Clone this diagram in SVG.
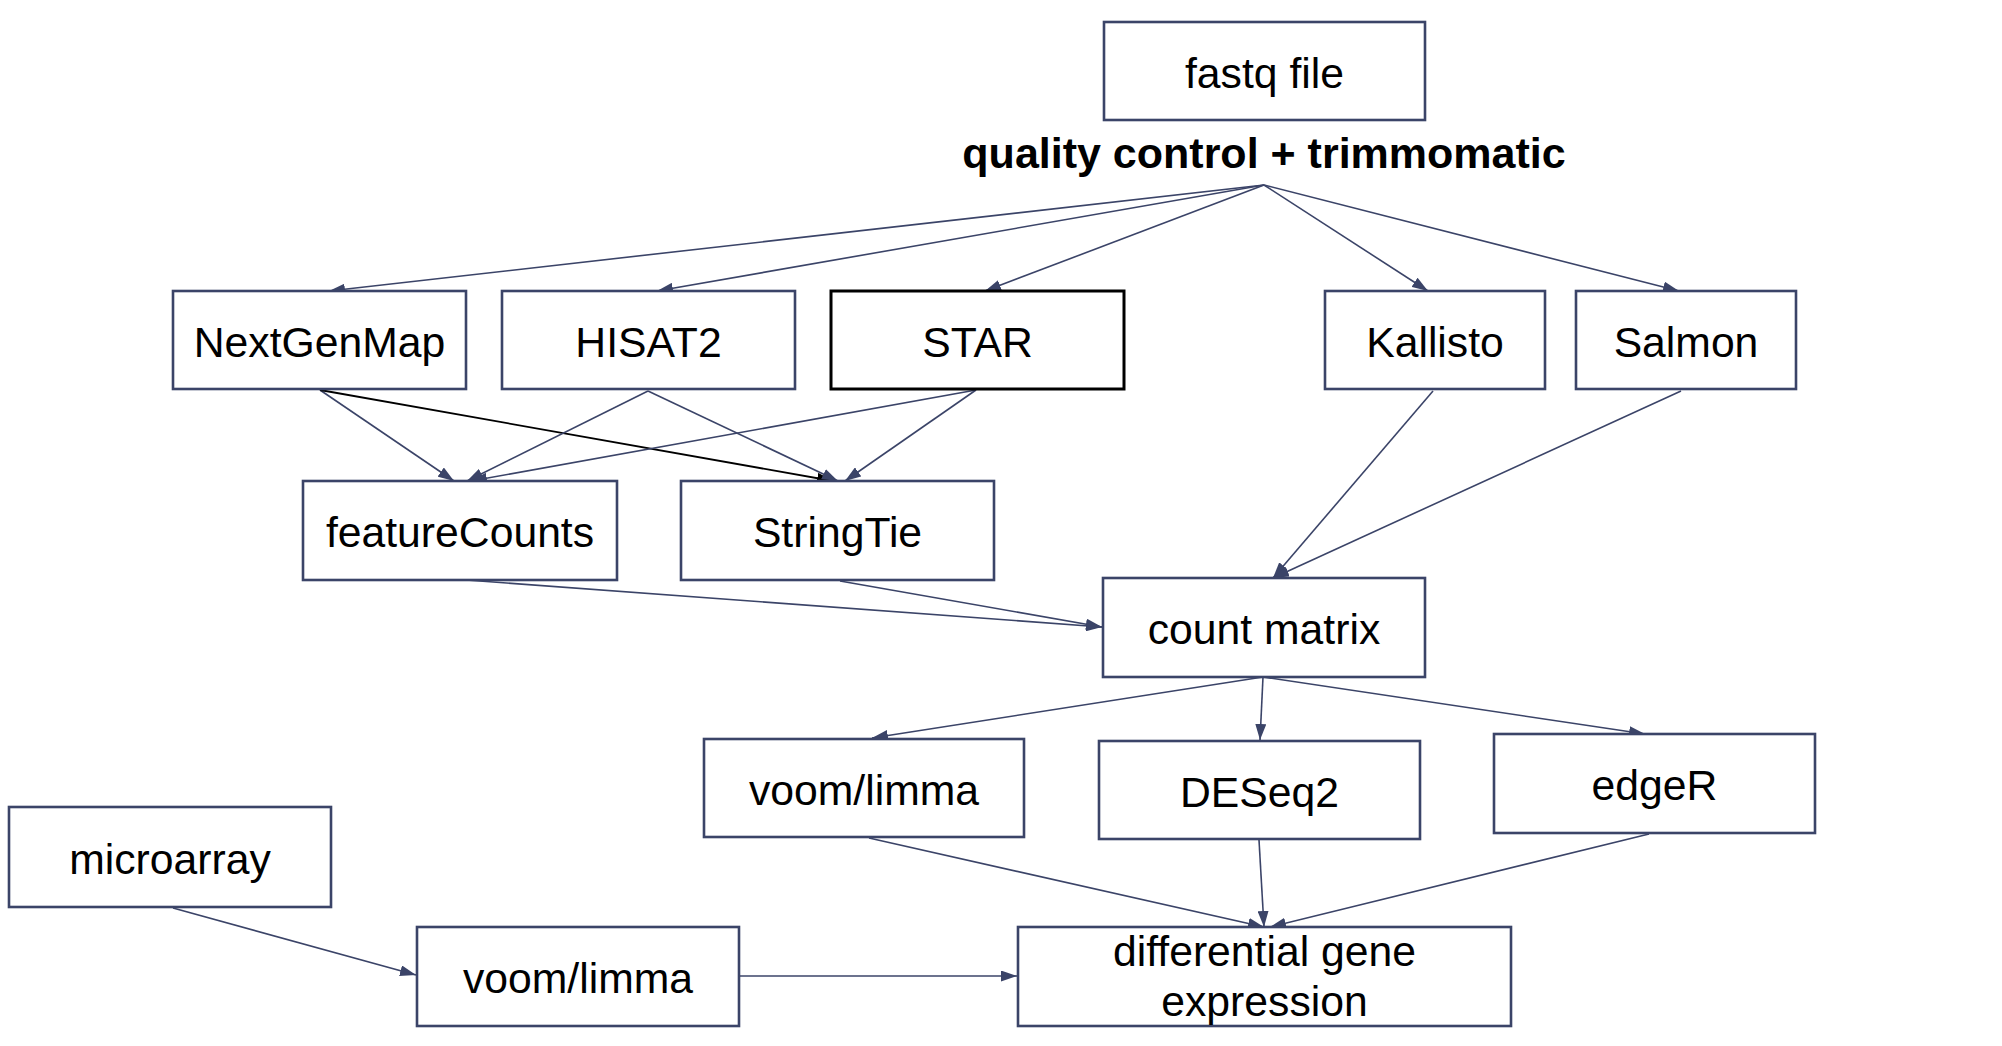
<svg xmlns="http://www.w3.org/2000/svg" width="2002" height="1046" viewBox="0 0 2002 1046">
<style>
.box{fill:#ffffff;stroke:#3b4468;stroke-width:2.6}
.boxk{fill:#ffffff;stroke:#000000;stroke-width:3}
.lbl{font-family:"Liberation Sans",Arial,sans-serif;font-size:42.7px;fill:#000000;text-anchor:middle}
.ttl{font-family:"Liberation Sans",Arial,sans-serif;font-size:43px;font-weight:bold;fill:#000000;text-anchor:middle}
.e{stroke:#3b4468;stroke-width:1.6;fill:none;marker-end:url(#ah)}
.ek{stroke:#000000;stroke-width:1.8;fill:none;marker-end:url(#ahk)}
</style>
<defs>
<marker id="ah" markerUnits="userSpaceOnUse" markerWidth="16" markerHeight="11" refX="16" refY="5.5" orient="auto">
<path d="M0,0 L16,5.5 L0,11 z" fill="#3b4468"/>
</marker>
<marker id="ahk" markerUnits="userSpaceOnUse" markerWidth="16" markerHeight="11" refX="16" refY="5.5" orient="auto">
<path d="M0,0 L16,5.5 L0,11 z" fill="#000000"/>
</marker>
</defs>
<rect width="2002" height="1046" fill="#ffffff"/>
<g id="connectors">
<line class="e" x1="1264" y1="185" x2="329" y2="291"/>
<line class="e" x1="1264" y1="185" x2="657" y2="291"/>
<line class="e" x1="1264" y1="185" x2="985" y2="291"/>
<line class="e" x1="1264" y1="185" x2="1428" y2="291"/>
<line class="e" x1="1264" y1="185" x2="1679" y2="291"/>
<line class="e" x1="320" y1="390" x2="454" y2="481"/>
<line class="ek" x1="320" y1="390" x2="833" y2="481"/>
<line class="e" x1="648" y1="391" x2="467" y2="481"/>
<line class="e" x1="648" y1="391" x2="838" y2="481"/>
<line class="e" x1="976" y1="390" x2="471" y2="481"/>
<line class="e" x1="976" y1="390" x2="845" y2="481"/>
<line class="e" x1="1433" y1="391" x2="1273" y2="578"/>
<line class="e" x1="1681" y1="391" x2="1273" y2="578"/>
<line class="e" x1="466" y1="580" x2="1102" y2="627"/>
<line class="e" x1="840" y1="581" x2="1102" y2="627"/>
<line class="e" x1="1263" y1="677" x2="872" y2="738"/>
<line class="e" x1="1263" y1="677" x2="1260" y2="740"/>
<line class="e" x1="1263" y1="677" x2="1645" y2="734"/>
<line class="e" x1="869" y1="838" x2="1264" y2="927"/>
<line class="e" x1="1259" y1="840" x2="1264" y2="927"/>
<line class="e" x1="1649" y1="834" x2="1270" y2="927"/>
<line class="e" x1="173" y1="908" x2="416" y2="975"/>
<line class="e" x1="739" y1="976" x2="1017" y2="976"/>
</g>
<g id="fastq"><rect class="box" x="1104" y="22" width="321" height="98"/><text class="lbl" x="1264.5" y="87.5">fastq file</text></g>
<g id="qc"><text class="ttl" x="1264" y="168">quality control + trimmomatic</text></g>
<g id="nextgenmap"><rect class="box" x="173" y="291" width="293" height="98"/><text class="lbl" x="319.5" y="356.5">NextGenMap</text></g>
<g id="hisat2"><rect class="box" x="502" y="291" width="293" height="98"/><text class="lbl" x="648.5" y="356.5">HISAT2</text></g>
<g id="star"><rect class="boxk" x="831" y="291" width="293" height="98"/><text class="lbl" x="977.5" y="356.5">STAR</text></g>
<g id="kallisto"><rect class="box" x="1325" y="291" width="220" height="98"/><text class="lbl" x="1435" y="356.5">Kallisto</text></g>
<g id="salmon"><rect class="box" x="1576" y="291" width="220" height="98"/><text class="lbl" x="1686" y="356.5">Salmon</text></g>
<g id="featurecounts"><rect class="box" x="303" y="481" width="314" height="99"/><text class="lbl" x="460" y="546.5">featureCounts</text></g>
<g id="stringtie"><rect class="box" x="681" y="481" width="313" height="99"/><text class="lbl" x="837.5" y="546.5">StringTie</text></g>
<g id="countmatrix"><rect class="box" x="1103" y="578" width="322" height="99"/><text class="lbl" x="1264" y="643.5">count matrix</text></g>
<g id="voomlimma1"><rect class="box" x="704" y="739" width="320" height="98"/><text class="lbl" x="864" y="804.5">voom/limma</text></g>
<g id="deseq2"><rect class="box" x="1099" y="741" width="321" height="98"/><text class="lbl" x="1259.5" y="806.5">DESeq2</text></g>
<g id="edger"><rect class="box" x="1494" y="734" width="321" height="99"/><text class="lbl" x="1654.5" y="799.5">edgeR</text></g>
<g id="microarray"><rect class="box" x="9" y="807" width="322" height="100"/><text class="lbl" x="170" y="873.5">microarray</text></g>
<g id="voomlimma2"><rect class="box" x="417" y="927" width="322" height="99"/><text class="lbl" x="578" y="992.5">voom/limma</text></g>
<g id="diffexpr"><rect class="box" x="1018" y="927" width="493" height="99"/><text class="lbl" x="1264.5" y="966">differential gene</text><text class="lbl" x="1264.5" y="1016">expression</text></g>
</svg>
